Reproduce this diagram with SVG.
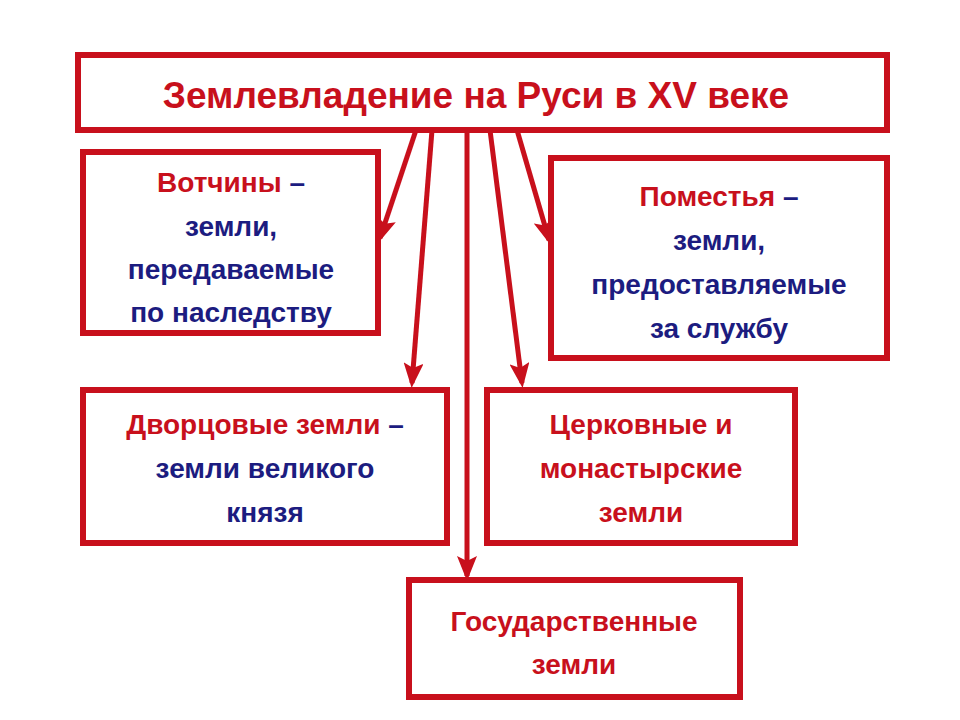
<svg xmlns="http://www.w3.org/2000/svg" width="960" height="720" viewBox="0 0 960 720">
<defs>
<style>
.b{fill:#fff;stroke:#c8101c;stroke-width:6}
.t{font-family:"Liberation Sans",Arial,sans-serif;font-weight:bold;font-size:28px;text-anchor:middle}
.r{fill:#c8101c}.u{fill:#1c1c80}
.c{stroke:#c8101c;stroke-width:5;fill:none}
</style>
<marker id="a" markerWidth="5" markerHeight="4" refX="4" refY="2" orient="auto" markerUnits="strokeWidth"><path d="M0,0 L5,2 L0,4 L1,2 Z" fill="#c8101c"/></marker>
</defs>
<rect width="960" height="720" fill="#fff"/>
<g id="connectors">
<line class="c" x1="416" y1="130" x2="380" y2="238" marker-end="url(#a)"/>
<line class="c" x1="432" y1="130" x2="412" y2="383" marker-end="url(#a)"/>
<line class="c" x1="467" y1="130" x2="467" y2="576" marker-end="url(#a)"/>
<line class="c" x1="490" y1="130" x2="522" y2="383" marker-end="url(#a)"/>
<line class="c" x1="517" y1="130" x2="549" y2="240" marker-end="url(#a)"/>
</g>
<g id="title"><rect class="b" x="78" y="55" width="809" height="75"/>
<text class="t r" x="476" y="108" style="font-size:37px">Землевладение на Руси в XV веке</text></g>
<g id="votchiny"><rect class="b" x="83" y="152" width="295" height="181"/>
<text class="t" x="231" y="192"><tspan class="r">Вотчины </tspan><tspan class="u">–</tspan></text>
<text class="t u" x="231" y="236">земли,</text>
<text class="t u" x="231" y="279">передаваемые</text>
<text class="t u" x="231" y="322">по наследству</text></g>
<g id="pomestya"><rect class="b" x="551" y="158" width="336" height="200"/>
<text class="t" x="719" y="206"><tspan class="r">Поместья </tspan><tspan class="u">–</tspan></text>
<text class="t u" x="719" y="250">земли,</text>
<text class="t u" x="719" y="294">предоставляемые</text>
<text class="t u" x="719" y="338">за службу</text></g>
<g id="dvortsovye"><rect class="b" x="83" y="390" width="364" height="153"/>
<text class="t" x="265" y="434"><tspan class="r">Дворцовые земли </tspan><tspan class="u">–</tspan></text>
<text class="t u" x="265" y="478">земли великого</text>
<text class="t u" x="265" y="522">князя</text></g>
<g id="tserkovnye"><rect class="b" x="487" y="390" width="308" height="153"/>
<text class="t r" x="641" y="434">Церковные и</text>
<text class="t r" x="641" y="478">монастырские</text>
<text class="t r" x="641" y="522">земли</text></g>
<g id="gosudarstvennye"><rect class="b" x="409" y="580" width="331" height="117"/>
<text class="t r" x="574" y="631">Государственные</text>
<text class="t r" x="574" y="674">земли</text></g>
</svg>
